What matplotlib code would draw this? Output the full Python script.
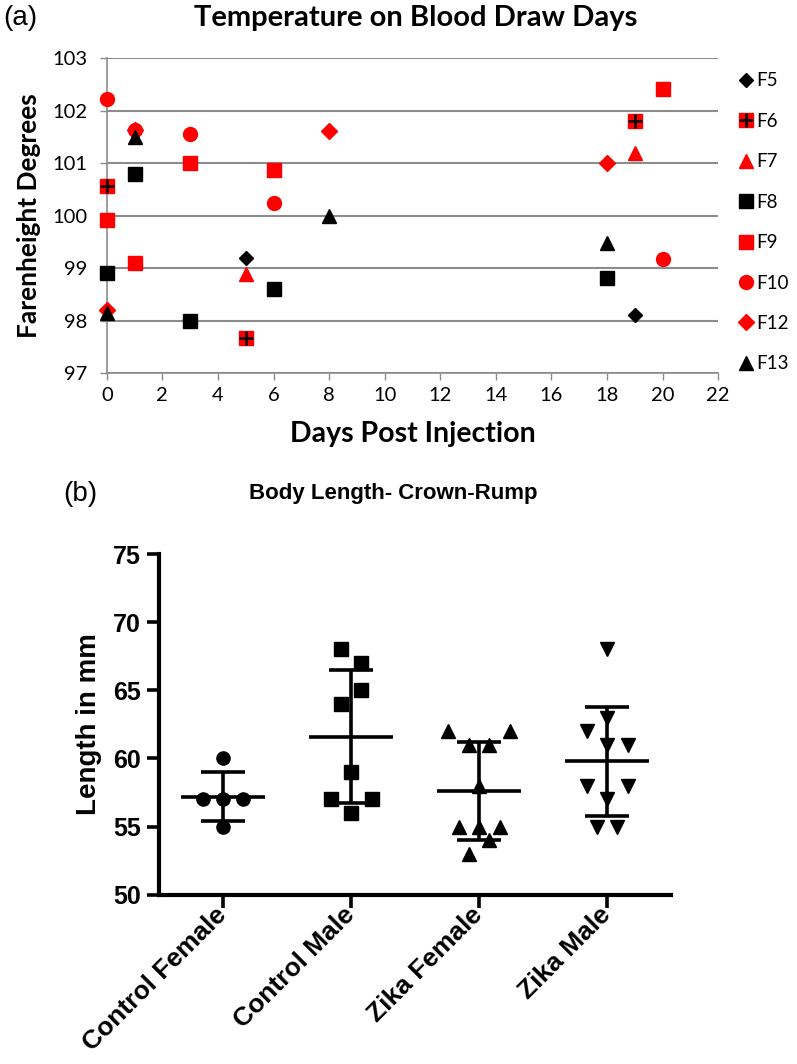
import matplotlib
matplotlib.use("Agg")
import matplotlib.pyplot as plt
from matplotlib.lines import Line2D

RED = "#FF0000"
GRID = "#8C8C8C"
XL_FONT = "Lato"
GP_FONT = "Liberation Sans"

# ---- panel (a): temperature per animal ----
F5_DAYS = [5, 19]
F5_TEMP = [99.2, 98.1]
F6_DAYS = [0, 5, 19]
F6_TEMP = [100.57, 97.67, 101.81]
F7_DAYS = [5, 19]
F7_TEMP = [98.88, 101.2]
F8_DAYS = [0, 1, 3, 6, 18]
F8_TEMP = [98.9, 100.8, 98.0, 98.6, 98.82]
F9_DAYS = [0, 1, 3, 6, 20]
F9_TEMP = [99.92, 99.1, 101.0, 100.88, 102.41]
F10_DAYS = [0, 1, 3, 6, 20]
F10_TEMP = [102.23, 101.64, 101.56, 100.25, 99.17]
F12_DAYS = [0, 1, 8, 18]
F12_TEMP = [98.2, 101.63, 101.62, 101.0]
F13_DAYS = [0, 1, 8, 18]
F13_TEMP = [98.15, 101.5, 100.0, 99.48]

# ---- panel (b): crown-rump length ----
GROUPS = ["Control Female", "Control Male", "Zika Female", "Zika Male"]
CF_LEN = [60, 57, 57, 57, 55]
CF_OFF = [0, -0.16, 0, 0.16, 0]
CM_LEN = [68, 67, 65, 64, 59, 57, 57, 56]
CM_OFF = [-0.08, 0.08, 0.08, -0.08, 0, -0.16, 0.16, 0]
ZF_LEN = [62, 62, 61, 61, 58, 55, 55, 55, 54, 53]
ZF_OFF = [-0.24, 0.24, -0.08, 0.08, 0, -0.16, 0, 0.16, 0.08, -0.08]
ZM_LEN = [68, 63, 62, 61, 61, 58, 58, 57, 55, 55]
ZM_OFF = [0, 0, -0.16, 0, 0.16, -0.16, 0.16, 0, -0.08, 0.08]
MEANS = [57.2, 61.6, 57.6, 59.8]
SD_HI = [59.0, 66.5, 61.2, 63.8]
SD_LO = [55.4, 56.7, 54.0, 55.8]

fig = plt.figure(figsize=(7.97, 10.64), dpi=100)

# ================= (a) =================
ax = fig.add_axes([0.134, 0.6494, 0.767, 0.2958])
ms = 10
series = [
    (F5_DAYS, F5_TEMP, "D", "black", 7),
    (F6_DAYS, F6_TEMP, "s", RED, ms),
    (F7_DAYS, F7_TEMP, "^", RED, ms),
    (F8_DAYS, F8_TEMP, "s", "black", ms),
    (F9_DAYS, F9_TEMP, "s", RED, ms),
    (F10_DAYS, F10_TEMP, "o", RED, ms),
    (F12_DAYS, F12_TEMP, "D", RED, 8.5),
    (F13_DAYS, F13_TEMP, "^", "black", ms),
]
for days, temps, mk, col, size in series:
    ax.plot(days, temps, mk, color=col, ms=size, ls="none", clip_on=False, zorder=3)
    if days is F6_DAYS:
        ax.plot(days, temps, "+", color="black", ms=size, mew=1.8, ls="none",
                clip_on=False, zorder=3)

ax.set_xlim(0, 22)
ax.set_ylim(97, 103)
ax.set_xticks(range(0, 23, 2))
ax.set_yticks(range(97, 104))
ax.grid(axis="y", color=GRID, linewidth=1.5)
ax.set_axisbelow(True)
for s in ("top", "right"):
    ax.spines[s].set_visible(False)
for s in ("left", "bottom"):
    ax.spines[s].set_color(GRID)
    ax.spines[s].set_linewidth(1.2)
ax.tick_params(axis="both", colors=GRID, length=5, width=1, labelcolor="black",
               labelsize=14.5)
ax.tick_params(axis="x", pad=5)
ax.tick_params(axis="y", pad=9)
for lab in ax.get_xticklabels() + ax.get_yticklabels():
    lab.set_family(XL_FONT)
ax.set_xlabel("Days Post Injection", fontsize=20.5, fontweight="bold",
              family=XL_FONT, labelpad=12)
ax.set_ylabel("Farenheight Degrees", fontsize=19, fontweight="bold",
              family=XL_FONT, labelpad=8)

handles = [
    Line2D([], [], marker="D", color="black", ms=7, ls="none"),
    (Line2D([], [], marker="s", color=RED, ms=ms, ls="none"),
     Line2D([], [], marker="+", color="black", ms=ms, mew=1.8, ls="none")),
    Line2D([], [], marker="^", color=RED, ms=ms, ls="none"),
    Line2D([], [], marker="s", color="black", ms=ms, ls="none"),
    Line2D([], [], marker="s", color=RED, ms=ms, ls="none"),
    Line2D([], [], marker="o", color=RED, ms=ms, ls="none"),
    Line2D([], [], marker="D", color=RED, ms=8.5, ls="none"),
    Line2D([], [], marker="^", color="black", ms=ms, ls="none"),
]
labels = ["F5", "F6", "F7", "F8", "F9", "F10", "F12", "F13"]
fig.legend(handles, labels, loc="center left", bbox_to_anchor=(0.927, 0.791),
           frameon=False, borderpad=0, borderaxespad=0, handlelength=0.8,
           handletextpad=0.15, labelspacing=1.25,
           prop={"family": XL_FONT, "size": 13.5})

fig.text(0.521, 0.983, "Temperature on Blood Draw Days", ha="center", va="center",
         fontsize=21, fontweight="bold", family=XL_FONT)
fig.text(0.004, 0.983, "(a)", ha="left", va="center", fontsize=20, family=GP_FONT)

# ================= (b) =================
bx = fig.add_axes([0.1995, 0.1591, 0.6425, 0.3202])
groups = [(CF_LEN, CF_OFF, "o"), (CM_LEN, CM_OFF, "s"),
          (ZF_LEN, ZF_OFF, "^"), (ZM_LEN, ZM_OFF, "v")]
for i, (vals, offs, mk) in enumerate(groups):
    xs = [i + o for o in offs]
    bx.plot(xs, vals, mk, color="black", ms=9.5, ls="none", zorder=2)
    bx.vlines(i, SD_LO[i], SD_HI[i], color="black", lw=2.6, zorder=3)
    bx.hlines([SD_LO[i], SD_HI[i]], i - 0.17, i + 0.17, color="black", lw=2.6, zorder=3)
    bx.hlines(MEANS[i], i - 0.33, i + 0.33, color="black", lw=2.6, zorder=3)

bx.set_xlim(-0.5, 3.5)
bx.set_ylim(50, 75)
bx.set_yticks(range(50, 76, 5))
bx.set_xticks(range(len(GROUPS)))
bx.set_xticklabels(GROUPS, rotation=45, ha="right", va="center",
                   rotation_mode="anchor")
for s in ("top", "right"):
    bx.spines[s].set_visible(False)
for s in ("left", "bottom"):
    bx.spines[s].set_linewidth(3)
bx.tick_params(axis="both", length=9, width=2.6)
bx.tick_params(axis="y", pad=4, labelsize=18)
bx.tick_params(axis="x", pad=3, labelsize=19)
for lab in bx.get_xticklabels() + bx.get_yticklabels():
    lab.set_family(GP_FONT)
    lab.set_fontweight("bold")
bx.set_ylabel("Length in mm", fontsize=20, fontweight="bold", family=GP_FONT,
              labelpad=8)

fig.text(0.494, 0.536, "Body Length- Crown-Rump", ha="center", va="center",
         fontsize=16, fontweight="bold", family=GP_FONT)
fig.text(0.079, 0.536, "(b)", ha="left", va="center", fontsize=20, family=GP_FONT)

fig.savefig("out.png", dpi=100)
